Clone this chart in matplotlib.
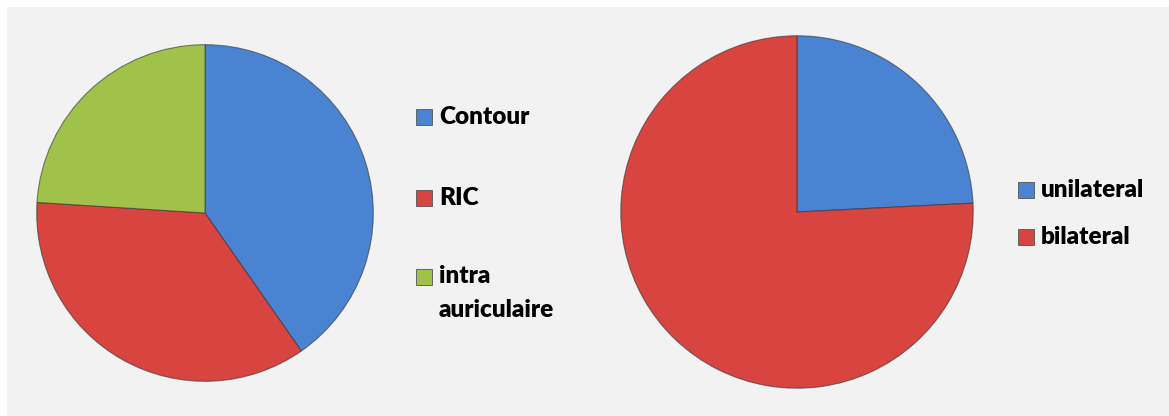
import matplotlib.pyplot as plt
from matplotlib.patches import Rectangle

# left pie: type of implant placement
left_labels = ['Contour', 'RIC', 'intra\nauriculaire']
left_values = [40.3, 35.7, 24.0]
left_colors = ['#4a83d2', '#d8443f', '#a0c24a']

# right pie: side
right_labels = ['unilateral', 'bilateral']
right_values = [24.2, 75.8]
right_colors = ['#4a83d2', '#d8443f']

W, H = 1169, 416
fig = plt.figure(figsize=(W / 100, H / 100), dpi=100)
fig.patch.set_facecolor('white')
fig.add_artist(Rectangle((7 / W, 0), 1, 1 - 7 / H, transform=fig.transFigure,
                         facecolor='#f2f2f2', edgecolor='none', zorder=-10))


def draw_pie(cx, cy, r, values, colors):
    ax = fig.add_axes([(cx - r) / W, (H - cy - r) / H, 2 * r / W, 2 * r / H])
    ax.pie(values, colors=colors, startangle=90, counterclock=False,
           wedgeprops=dict(linewidth=0.8, edgecolor=(0.2, 0.2, 0.2, 0.6)), radius=1.0)
    ax.set_xlim(-1.01, 1.01)
    ax.set_ylim(-1.01, 1.01)
    ax.set_aspect('equal')
    ax.axis('off')


def draw_legend(x, ys, labels, colors):
    for y, lab, c in zip(ys, labels, colors):
        fig.add_artist(Rectangle((x / W, (H - y - 8) / H), 16 / W, 16 / H,
                                 transform=fig.transFigure, facecolor=c,
                                 edgecolor='#555555', linewidth=0.6))
        if '\n' in lab:
            fig.text((x + 23) / W, (H - y + 12) / H, lab, ha='left', va='top',
                     fontsize=17.5, fontweight='heavy', family='Lato', color='black',
                     linespacing=1.65)
        else:
            fig.text((x + 23) / W, (H - y) / H, lab, ha='left', va='center',
                     fontsize=17.5, fontweight='heavy', family='Lato', color='black')


draw_pie(205, 213, 170, left_values, left_colors)
draw_pie(797, 212, 178, right_values, right_colors)

draw_legend(416, [117, 198, 277], left_labels, left_colors)
draw_legend(1018, [190, 237], right_labels, right_colors)

fig.savefig('out.png', dpi=100)
